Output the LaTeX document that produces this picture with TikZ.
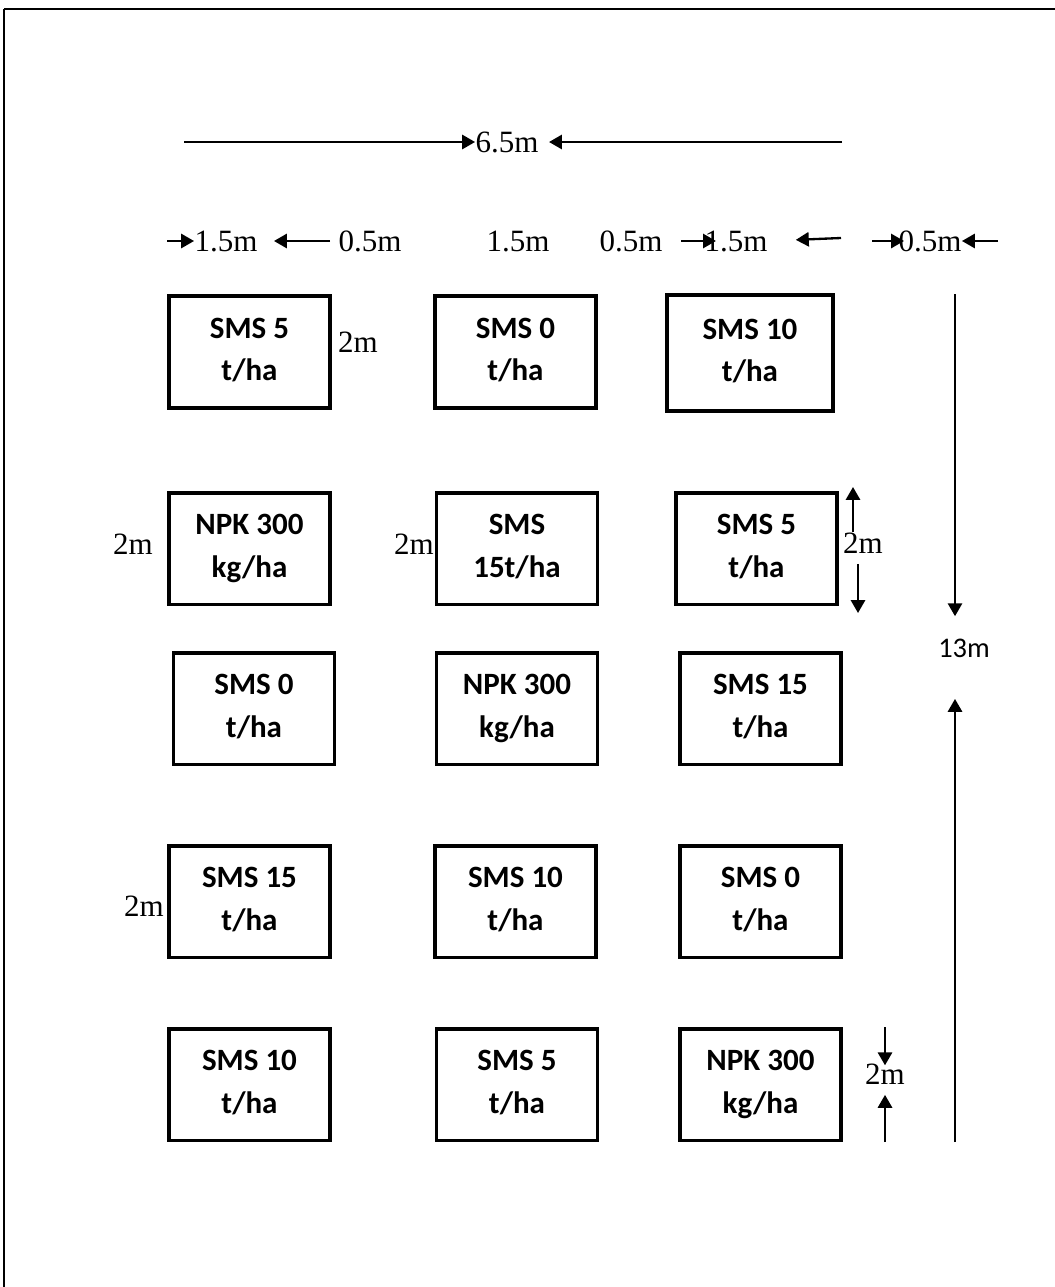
\documentclass[tikz,border=0pt]{standalone}
\usepackage{fontspec}
\setmainfont{Liberation Serif}
\newfontfamily\calibri{Carlito}
\usetikzlibrary{arrows.meta}

\begin{document}
\begin{tikzpicture}[x=0.387pt, y=-0.387pt,
  plot/.style={draw, line width=1.5pt, minimum width=62.3pt, minimum height=43.3pt,
    align=center, inner sep=0pt, font=\calibri\bfseries\fontsize{12}{16.5}\selectfont,
    execute at end node={\vphantom{g}}},
  dim/.style={line width=0.9pt, -{Triangle[length=5pt, width=5.5pt]}},
  lbl/.style={inner sep=0pt, font=\fontsize{12}{14}\selectfont}]
  \useasboundingbox (0,0) rectangle (1055,1287);

  % Page frame
  \draw[line width=1pt] (1060,9) -- (4,9);
  \draw[line width=0.6pt] (4,9) -- (4,1295);

  % Plots
  \foreach \nm/\cx/\cy/\txt in {
    r1c1/249.5/352/{SMS 5\\t/ha}, r1c2/515.5/352/{SMS 0\\t/ha},
    r2c1/249.5/548.5/{NPK 300\\kg/ha}, r2c2/517/548.5/{SMS\\15t/ha}, r2c3/756.5/548.5/{SMS 5\\t/ha},
    r3c1/254/708.5/{SMS 0\\t/ha}, r3c2/517/708.5/{NPK 300\\kg/ha}, r3c3/760.5/708.5/{SMS 15\\t/ha},
    r4c1/249.5/901.5/{SMS 15\\t/ha}, r4c2/515.5/901.5/{SMS 10\\t/ha}, r4c3/760.5/901.5/{SMS 0\\t/ha},
    r5c1/249.5/1084.5/{SMS 10\\t/ha}, r5c2/517/1084.5/{SMS 5\\t/ha}, r5c3/760.5/1084.5/{NPK 300\\kg/ha}} {
    \node[plot] (\nm) at (\cx,\cy) {\txt};
  }
  \node[plot, minimum width=64.2pt, minimum height=44.9pt] (r1c3) at (750,353) {SMS 10\\t/ha};

  % Overall width
  \node[lbl] (w65) at (507,142) {6.5m};
  \coordinate (w65l) at (184,142);
  \coordinate (w65r) at (842,142);
  \draw[dim] (w65l) -- (w65.west);
  \draw[dim, shorten >=3.9pt] (w65r) -- (w65.east);

  % Plot widths and paths
  \node[lbl] (l15a) at (226,241) {1.5m};
  \node[lbl] (l05a) at (370,241) {0.5m};
  \node[lbl] (l15b) at (518,241) {1.5m};
  \node[lbl] (l05b) at (631,241) {0.5m};
  \node[lbl] (l15c) at (736,241) {1.5m};
  \node[lbl] (l05c) at (930,241) {0.5m};
  \coordinate (a1) at (167,241);
  \coordinate (a2) at (330,241);
  \coordinate (a3) at (681,241);
  \coordinate (a4) at (841,238);
  \coordinate (a5) at (872,241);
  \coordinate (a6) at (998,241);
  \draw[dim] (a1) -- (l15a.west);
  \draw[dim, shorten >=6.2pt] (a2) -- (l15a.east);
  \draw[dim, shorten >=-4.6pt] (a3) -- (l15c.west);
  \draw[dim, shorten >=10.8pt] (a4) -- (l15c.east);
  \draw[dim, shorten >=-2.3pt] (a5) -- (l05c.west);
  \draw[dim] (a6) -- (l05c.east);

  % Plot lengths
  \node[lbl] (m1) at (358,342) {2m};
  \node[lbl] (m2) at (133,544) {2m};
  \node[lbl] (m3) at (414,544) {2m};
  \node[lbl] (m4) at (863,543) {2m};
  \node[lbl] (m5) at (144,906) {2m};
  \node[lbl] (m6) at (885,1074) {2m};
  \coordinate (m4up) at (853,487);
  \coordinate (m4dn) at (858,613);
  \draw[dim] (m4up |- m4.north) -- (m4up);
  \draw[dim, shorten <=3.9pt] (m4dn |- m4.south) -- (m4dn);
  \coordinate (m6up) at (885,1027);
  \coordinate (m6dn) at (885,1142);
  \draw[dim, shorten >=-0.8pt] (m6up) -- (m6.north);
  \draw[dim, shorten >=3.9pt] (m6dn) -- (m6.south);

  % Overall length
  \node[inner sep=0pt, font=\calibri\fontsize{11}{13}\selectfont] (len13) at (964,648) {13m};
  \coordinate (d13a) at (955,294);
  \coordinate (d13b) at (955,1142);
  \draw[dim, shorten >=8.5pt] (d13a) -- (d13a |- len13.north);
  \draw[dim, shorten >=15.9pt] (d13b) -- (d13b |- len13.south);

\end{tikzpicture}
\end{document}
